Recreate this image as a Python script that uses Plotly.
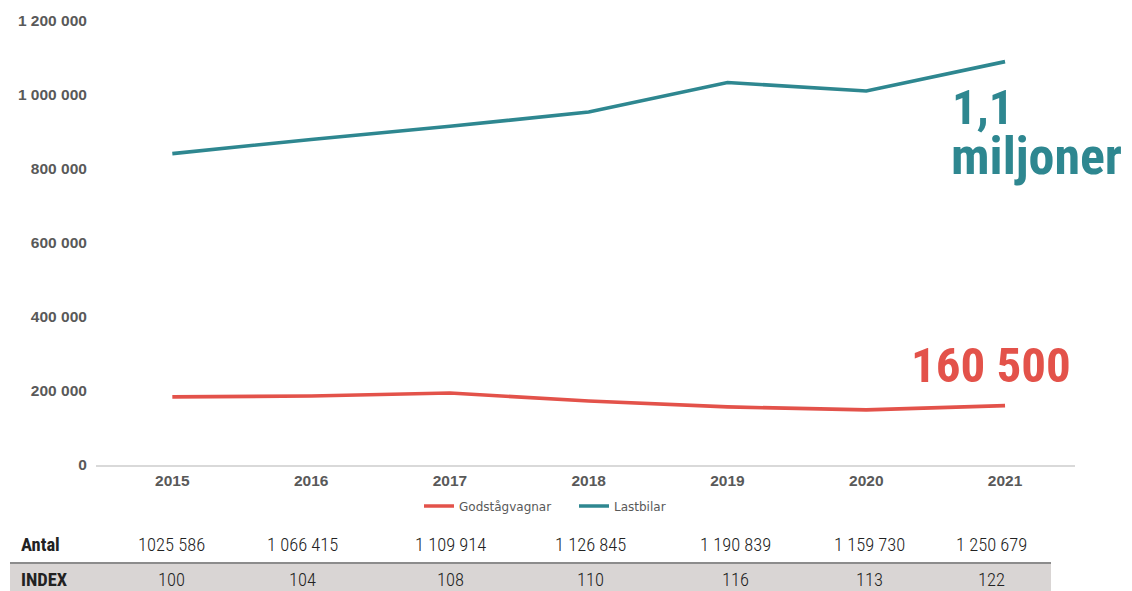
import plotly.graph_objects as go

years = ["2015", "2016", "2017", "2018", "2019", "2020", "2021"]
godstagvagnar = [184000, 186500, 194500, 173000, 157000, 149000, 160500]
lastbilar = [841586, 879915, 915414, 953845, 1033839, 1010730, 1090179]
antal = ["1025 586", "1 066 415", "1 109 914", "1 126 845", "1 190 839", "1 159 730", "1 250 679"]
index_vals = ["100", "104", "108", "110", "116", "113", "122"]
y_ticks = [0, 200000, 400000, 600000, 800000, 1000000, 1200000]
y_ticktext = ["0", "200 000", "400 000", "600 000", "800 000", "1 000 000", "1 200 000"]

RED = "#E3524A"
TEAL = "#2E8790"
GRAY = "#595959"

# page body has an 8px margin: draw the figure 8px smaller and shift coordinates
OFF = 8
W, H = 1132 - OFF, 591 - OFF
ML, MR, MT, MB = 96 - OFF, 1132 - 1075, 21 - OFF, 126
PW = W - ML - MR
PH = H - MT - MB


def px(x):
    return (x - OFF - ML) / PW


def py(y):
    return (H - MB - (y - OFF)) / PH


fig = go.Figure()
fig.add_trace(go.Scatter(x=years, y=godstagvagnar, mode="lines", name="Godstågvagnar",
                         line=dict(color=RED, width=3.6)))
fig.add_trace(go.Scatter(x=years, y=lastbilar, mode="lines", name="Lastbilar",
                         line=dict(color=TEAL, width=3.6)))

AX = "Liberation Sans, Arial, sans-serif"
fig.update_layout(
    width=W, height=H,
    margin=dict(l=ML, r=MR, t=MT, b=MB, autoexpand=False),
    plot_bgcolor="white", paper_bgcolor="white",
    showlegend=True,
    legend=dict(orientation="h", x=px(419), xanchor="left", y=py(506), yanchor="middle",
                font=dict(family="DejaVu Sans", size=12, color=GRAY),
                itemwidth=30, tracegroupgap=0, entrywidth=110, entrywidthmode="pixels"),
    xaxis=dict(type="category", range=[-0.55, 6.504], showgrid=False, zeroline=False,
               showline=True, linecolor="#D9D9D9", linewidth=1.5, automargin=False,
               ticks="outside", ticklen=1, tickcolor="rgba(0,0,0,0)",
               tickfont=dict(family=AX, size=15.5, color=GRAY, weight="bold")),
    yaxis=dict(range=[0, 1200000], tickvals=y_ticks, ticktext=y_ticktext,
               showgrid=False, zeroline=False, showline=False, automargin=False,
               ticks="outside", ticklen=5, tickcolor="rgba(0,0,0,0)",
               tickfont=dict(family=AX, size=15.5, color=GRAY, weight="bold")),
)

BIG = "Roboto Condensed, DejaVu Sans Condensed, sans-serif"
fig.add_annotation(xref="paper", yref="paper", x=px(950), y=py(107), xanchor="left", yanchor="middle",
                   text="<b>1,1</b>", showarrow=False, font=dict(family=BIG, size=49, color=TEAL))
fig.add_annotation(xref="paper", yref="paper", x=px(949), y=py(156), xanchor="left", yanchor="middle",
                   text="<b>miljoner</b>", showarrow=False, font=dict(family=BIG, size=52, color=TEAL))
fig.add_annotation(xref="paper", yref="paper", x=px(991), y=py(365), xanchor="center", yanchor="middle",
                   text="<b>160 500</b>", showarrow=False, font=dict(family=BIG, size=49, color=RED))

# Table
fig.add_shape(type="rect", xref="paper", yref="paper", x0=px(10), x1=px(1051), y0=py(595), y1=py(563),
              fillcolor="#D9D5D4", line=dict(width=0), layer="below")
fig.add_shape(type="line", xref="paper", yref="paper", x0=px(10), x1=px(1051), y0=py(563), y1=py(563),
              line=dict(color="#8C8C8C", width=2))

TFONT = "Roboto Condensed, DejaVu Sans Condensed, sans-serif"
TCOL = "#222222"
col_x = [171, 302, 450, 590, 735, 869, 991]
fig.add_annotation(xref="paper", yref="paper", x=px(19), y=py(545), xanchor="left", yanchor="middle",
                   text="<b>Antal</b>", showarrow=False, font=dict(family=TFONT, size=18.5, color=TCOL))
fig.add_annotation(xref="paper", yref="paper", x=px(19), y=py(580), xanchor="left", yanchor="middle",
                   text="<b>INDEX</b>", showarrow=False, font=dict(family=TFONT, size=18.5, color=TCOL))
for cx, a, iv in zip(col_x, antal, index_vals):
    fig.add_annotation(xref="paper", yref="paper", x=px(cx), y=py(545), xanchor="center", yanchor="middle",
                       text=a, showarrow=False, font=dict(family=TFONT, size=18.5, color=TCOL, weight=300))
    fig.add_annotation(xref="paper", yref="paper", x=px(cx), y=py(580), xanchor="center", yanchor="middle",
                       text=iv, showarrow=False, font=dict(family=TFONT, size=18.5, color=TCOL, weight=300))

fig.write_html("out.html")
